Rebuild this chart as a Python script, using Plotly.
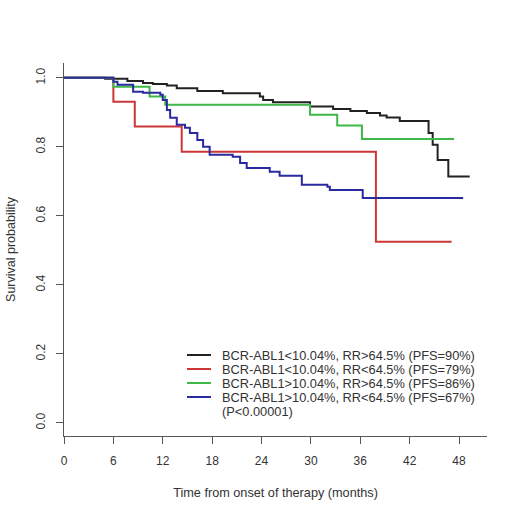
import plotly.graph_objects as go

# Kaplan-Meier step curves (months, survival probability)
t_black = [0, 5.0, 7.7, 9.6, 10.8, 12.5, 13.7, 16.2, 19.3, 23.8, 24.2, 25.4, 29.9, 32.7, 34.8,
           36.8, 38.4, 39.2, 40.8, 44.3, 44.8, 45.4, 46.7, 49.3]
s_black = [1.0, 0.997, 0.991, 0.985, 0.982, 0.978, 0.970, 0.962, 0.955, 0.946, 0.936, 0.929, 0.917,
           0.910, 0.904, 0.898, 0.891, 0.885, 0.875, 0.840, 0.806, 0.762, 0.714, 0.714]

t_red = [0, 6.0, 8.6, 14.3, 37.9, 47.1]
s_red = [1.0, 0.931, 0.859, 0.786, 0.525, 0.525]

t_green = [0, 6.0, 10.4, 12.3, 29.9, 33.2, 36.2, 47.4]
s_green = [1.0, 0.974, 0.946, 0.922, 0.893, 0.862, 0.823, 0.823]

t_blue = [0, 6.0, 6.5, 8.4, 9.6, 11.7, 12.0, 12.5, 12.9, 13.7, 14.7, 15.3, 16.2, 16.9, 17.7,
          20.5, 21.4, 22.2, 25.0, 26.2, 28.9, 32.0, 32.3, 36.3, 48.5]
s_blue = [1.0, 0.989, 0.980, 0.960, 0.957, 0.951, 0.936, 0.907, 0.884, 0.864, 0.855, 0.840, 0.820,
          0.800, 0.777, 0.771, 0.753, 0.739, 0.728, 0.716, 0.690, 0.684, 0.675, 0.652, 0.652]

labels = ["BCR-ABL1<10.04%, RR>64.5% (PFS=90%)",
          "BCR-ABL1<10.04%, RR<64.5% (PFS=79%)",
          "BCR-ABL1>10.04%, RR>64.5% (PFS=86%)",
          "BCR-ABL1>10.04%, RR<64.5% (PFS=67%)"]
p_text = "(P<0.00001)"
colors = ["#222222", "#cc3636", "#3fb848", "#2a2aa0"]

x_ticks = [0, 6, 12, 18, 24, 30, 36, 42, 48]
y_ticks = [0.0, 0.2, 0.4, 0.6, 0.8, 1.0]

FONT = "Liberation Sans, Arial, sans-serif"
TXT = "#333333"
AX = "#555555"

fig = go.Figure()
curves = [(t_black, s_black), (t_red, s_red), (t_green, s_green), (t_blue, s_blue)]
for (t, s), name, col in zip(curves, labels, colors):
    fig.add_trace(go.Scatter(x=t, y=s, mode="lines", line=dict(shape="hv", color=col, width=2),
                             name=name, showlegend=False))

# hand-made legend in the R style (tight rows)
px_l, px_r, px_t, px_b = 64, 487, 63, 436
def px2paper(x, y):
    return (x - px_l) / (px_r - px_l), (px_b - y) / (px_b - px_t)

rows = [355, 369, 383, 397]
for i, (name, col) in enumerate(zip(labels, colors)):
    x0, y0 = px2paper(187, rows[i])
    x1, _ = px2paper(211, rows[i])
    xt, _ = px2paper(220, rows[i])
    fig.add_shape(type="line", xref="paper", yref="paper", x0=x0, x1=x1, y0=y0, y1=y0,
                  line=dict(color=col, width=2))
    fig.add_annotation(xref="paper", yref="paper", x=xt, y=y0, text=name, showarrow=False,
                       xanchor="left", yanchor="middle", font=dict(family=FONT, size=12.8, color=TXT))
xt, yt = px2paper(220, 411)
fig.add_annotation(xref="paper", yref="paper", x=xt, y=yt, text=p_text, showarrow=False,
                   xanchor="left", yanchor="middle", font=dict(family=FONT, size=12.8, color=TXT))

fig.update_layout(
    width=520, height=517,
    margin=dict(l=px_l, r=520 - px_r, t=px_t, b=517 - px_b),
    plot_bgcolor="white", paper_bgcolor="white",
    font=dict(family=FONT, size=12, color=TXT),
)
fig.update_xaxes(range=[0, 51.4], tickvals=x_ticks, ticks="outside", ticklen=7, tickcolor=AX,
                 showline=True, linecolor=AX, linewidth=1.3, showgrid=False, zeroline=False,
                 ticklabelstandoff=6, automargin=False,
                 title=dict(text="Time from onset of therapy (months)", font=dict(size=12.7), standoff=21))
fig.update_yaxes(range=[-0.038, 1.043], tickvals=y_ticks, tickformat=".1f", tickangle=-90,
                 ticks="outside", ticklen=7, tickcolor=AX, showline=True, linecolor=AX, linewidth=1.3,
                 showgrid=False, zeroline=False, ticklabelstandoff=6, automargin=False,
                 title=dict(text="Survival probability", font=dict(size=12.5), standoff=15))

# drop the page's default body margin so the figure sits at the window corner
fig.write_html("out.html", config={"displayModeBar": False},
               post_script="document.body.style.margin='0';")
